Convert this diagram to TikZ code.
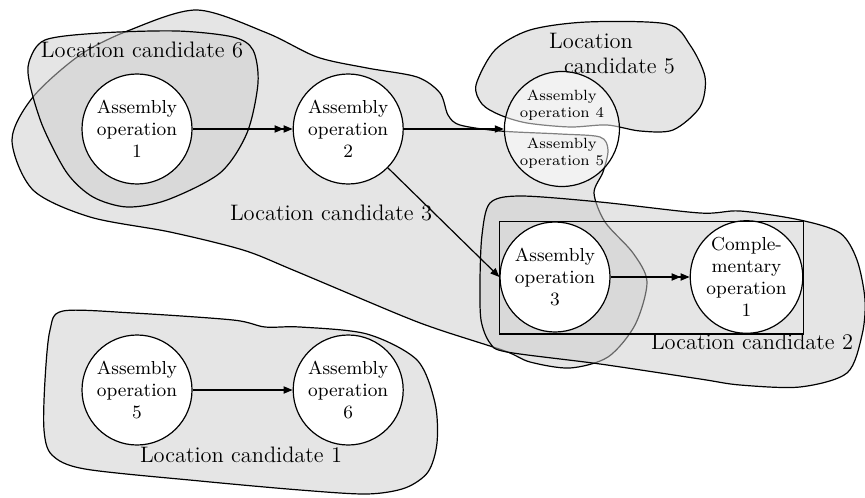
\documentclass[tikz,border=0pt]{standalone}
\usepackage{tikz}
\usetikzlibrary{arrows.meta, positioning}

\begin{document}
\begin{tikzpicture}[
x=0.5pt, y=-0.5pt,
node distance=50pt,
op/.style={draw, circle, fill=white, line width=0.6pt, minimum size=55pt, inner sep=0pt, align=center, font=\fontsize{9.4}{11}\selectfont},
region/.style={draw, line width=0.6pt, fill=black!20, fill opacity=0.5},
lbl/.style={font=\fontsize{11.2}{12.5}\selectfont, inner sep=0pt},
arr/.style={-{Triangle[length=4.5pt, width=3.6pt]}, line width=0.6pt},
dblarr/.style={-{Triangle[length=4.5pt, width=3.6pt] Triangle[length=4.5pt, width=3.6pt]}, line width=0.6pt}
]
\useasboundingbox (0,0) rectangle (865,497);

% location candidates
\draw[region] plot[smooth cycle] coordinates {(12,140) (33,97) (80,55) (130,30) (197,10) (267,33) (317,57) (367,68) (417,77) (440,93) (448,115) (460,125) (500,131) (560,134) (600,137) (608,150) (603,172) (594,193) (605,222) (633,253) (647,282) (635,325) (608,357) (570,368) (530,362) (505,351) (440,330) (400,315) (293,270) (243,250) (170,232) (90,217) (33,190)};
\draw[region] plot[smooth cycle] coordinates {(29,62) (45,40) (100,33) (177,31) (233,37) (253,50) (258,83) (247,133) (220,173) (167,200) (127,207) (93,197) (67,173) (43,127) (30,85)};
\draw[region] plot[smooth cycle] coordinates {(476,85) (495,50) (530,30) (587,22) (667,24) (690,45) (705,77) (700,107) (673,130) (640,131) (607,125) (570,127) (527,123) (500,115) (482,104)};
\draw[region] plot[smooth cycle] coordinates {(490,203) (520,196) (600,202) (700,213) (740,211) (800,220) (840,233) (857,260) (865,300) (862,335) (847,373) (800,387) (740,385) (700,379) (600,364) (507,352) (490,343) (481,320) (480,280) (482,235)};
\draw[region] plot[smooth cycle] coordinates {(63,311) (133,313) (233,320) (265,327) (300,327) (367,334) (417,360) (435,403) (437,443) (428,472) (405,488) (367,494) (300,490) (200,481) (85,469) (52,455) (44,430) (45,380) (50,330)};

\node[lbl] (lc6) at (142,50) {Location candidate 6};
\node[lbl] (lc3) at (331,213) {Location candidate 3};
\node[lbl, align=left] (lc5) at (612,54) {Location\\\hspace*{7.5pt}candidate 5};
\node[lbl] (lc2) at (752,342) {Location candidate 2};
\node[lbl] (lc1) at (241,455) {Location candidate 1};

% operations
\node[op] (op1) at (137,129) {Assembly\\operation\\1};
\node[op, right=of op1] (op2) {Assembly\\operation\\2};
\node[op, right=of op2, fill opacity=0.5, text opacity=1, font=\fontsize{7.4}{8.6}\selectfont] (op45)
{Assembly\\operation 4\\[7pt]Assembly\\operation 5};
\node[op] (op3) at (555,277) {Assembly\\operation\\3};
\node[op, right=39.5pt of op3] (comp1) {Comple-\\mentary\\operation\\1};
\node[op] (op5) at (137,390) {Assembly\\operation\\5};
\node[op, right=of op5] (op6) {Assembly\\operation\\6};

\draw[line width=0.6pt] (op3.west |- op3.north) rectangle (comp1.east |- comp1.south);

\draw[dblarr] (op1) -- (op2);
\draw[arr] (op2) -- (op45);
\draw[arr] (op2) -- (op3.west);
\draw[dblarr] (op3) -- (comp1);
\draw[arr] (op5) -- (op6);

\end{tikzpicture}
\end{document}
